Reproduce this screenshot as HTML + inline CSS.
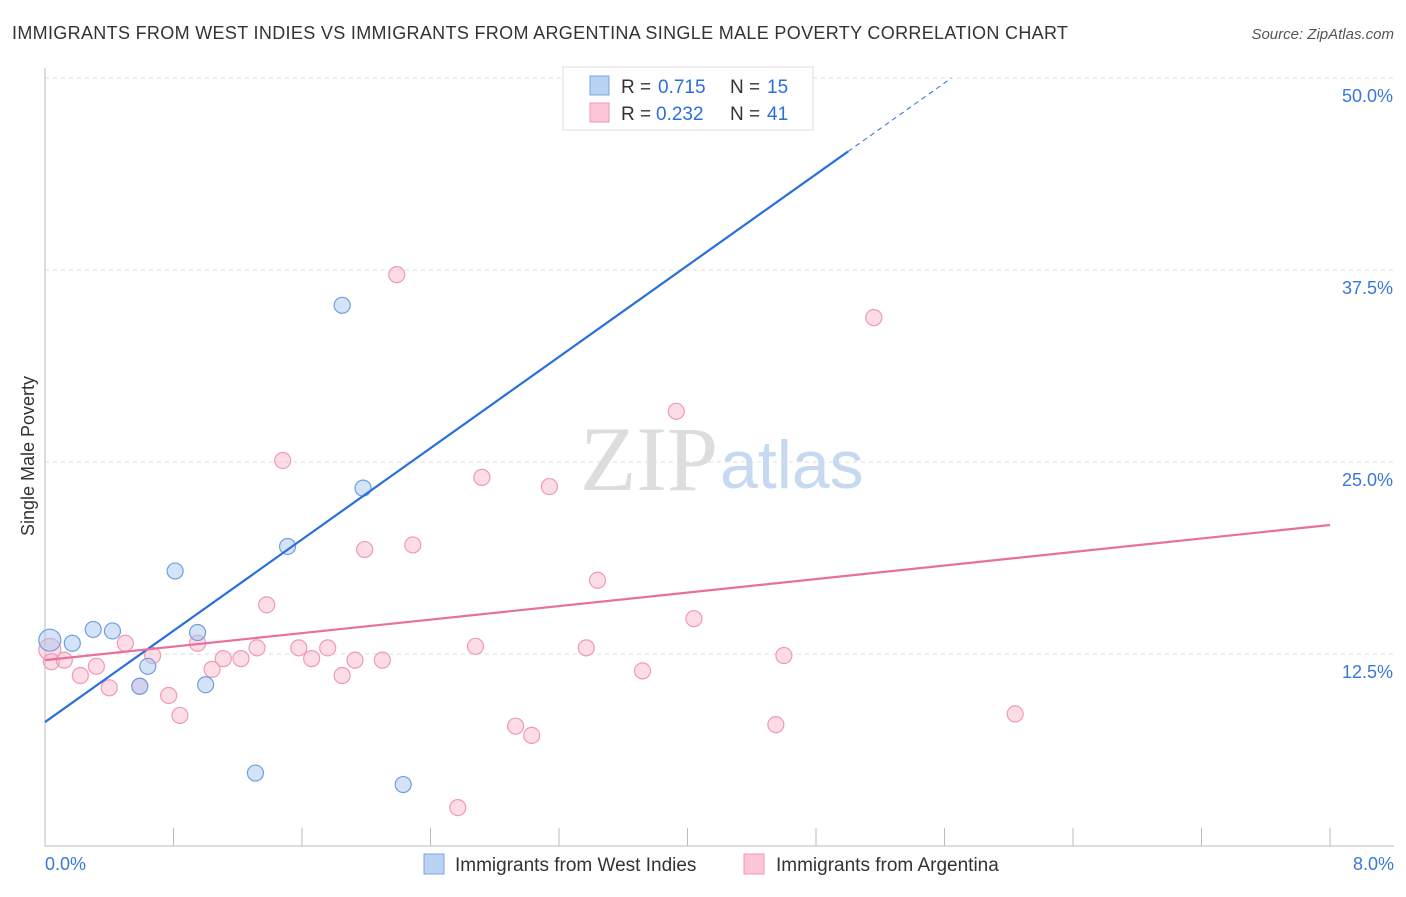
<!DOCTYPE html>
<html><head><meta charset="utf-8"><style>
body{margin:0;background:#fff;font-family:"Liberation Sans",sans-serif;}
</style></head><body>
<svg width="1406" height="892" xmlns="http://www.w3.org/2000/svg" style="font-family:'Liberation Sans',sans-serif">
<text x="12" y="39" font-size="18" fill="#333" textLength="1056" lengthAdjust="spacing">IMMIGRANTS FROM WEST INDIES VS IMMIGRANTS FROM ARGENTINA SINGLE MALE POVERTY CORRELATION CHART</text>
<text x="1394" y="39" font-size="15" fill="#555" text-anchor="end" font-style="italic">Source: ZipAtlas.com</text>
<g id="grid"></g>
<g id="ticks"></g>
<text x="718" y="490" font-size="92" fill="#ddd" text-anchor="end" font-family="Liberation Serif">ZIP</text>
<text x="720" y="488" font-size="68" fill="#c6d9f0">atlas</text>
<g id="pts"></g>
<g id="lines"></g>
<text transform="translate(34,456) rotate(-90)" font-size="18" fill="#333" text-anchor="middle">Single Male Poverty</text>
<g>
<rect x="563" y="67" width="250" height="63" fill="#fff" stroke="#ddd"/>
<rect x="590" y="76" width="19" height="19" fill="#b8d4f5" stroke="#7aa6e0"/>
<rect x="590" y="103" width="19" height="19" fill="#fcc6d6" stroke="#ee98b4"/>
<text x="621" y="93" font-size="19" fill="#333">R = </text><text x="658" y="93" font-size="19" fill="#2a6fdb">0.715</text>
<text x="730" y="93" font-size="19" fill="#333">N = </text><text x="767" y="93" font-size="19" fill="#2a6fdb">15</text>
<text x="621" y="120" font-size="19" fill="#333">R = </text><text x="656" y="120" font-size="19" fill="#2a6fdb">0.232</text>
<text x="730" y="120" font-size="19" fill="#333">N = </text><text x="767" y="120" font-size="19" fill="#2a6fdb">41</text>
</g>
<g>
<rect x="424" y="854" width="20" height="20" fill="#b8d4f5" stroke="#7aa6e0"/>
<text x="455" y="871" font-size="19" fill="#333">Immigrants from West Indies</text>
<rect x="744" y="854" width="20" height="20" fill="#fcc6d6" stroke="#ee98b4"/>
<text x="776" y="871" font-size="19" fill="#333">Immigrants from Argentina</text>
</g>
</svg>
<script>
const blueX=[0.03,0.17,0.30,0.42,0.59,0.64,0.81,0.95,1.00,1.31,1.51,1.85,1.98,2.23,4.53];
const blueY=[13.4,13.2,14.1,14.0,10.4,11.7,17.9,13.9,10.5,4.75,19.5,35.2,23.3,4.0,49.9];
const pinkX=[0.03,0.04,0.12,0.22,0.32,0.40,0.50,0.59,0.67,0.77,0.84,0.95,1.04,1.11,1.22,1.32,1.38,1.48,1.58,1.66,1.76,1.85,1.93,1.99,2.10,2.19,2.29,2.57,2.68,2.72,2.93,3.03,3.14,3.37,3.44,3.72,3.93,4.04,4.55,4.60,5.16,6.04];
const pinkY=[12.8,12.0,12.1,11.1,11.7,10.3,13.2,10.4,12.4,9.8,8.5,13.2,11.5,12.2,12.2,12.9,15.7,25.1,12.9,12.2,12.9,11.1,12.1,19.3,12.1,37.2,19.6,2.5,13.0,24.0,7.8,7.2,23.4,12.9,17.3,11.4,28.3,14.8,7.9,12.4,34.4,8.6];
const blueTrend=[8.07,7.43];
const pinkTrend=[12.1,1.1];
const yTicks=[12.5,25.0,37.5,50.0];
const xTicks=[0,0.8,1.6,2.4,3.2,4.0,4.8,5.6,6.4,7.2,8.0];
const NS="http://www.w3.org/2000/svg";
const sx=v=>45+v/8*1285, sy=v=>846-v/12.5*192;
function mk(p,t,a){const e=document.createElementNS(NS,t);for(const k in a)e.setAttribute(k,a[k]);document.getElementById(p).appendChild(e);return e;}
yTicks.forEach(t=>{
 const l=mk('grid','line',{x1:45,x2:1394,y1:sy(t),y2:sy(t),stroke:'#ddd','stroke-dasharray':'4,4'});
 
 
 const tx=mk('grid','text',{x:1393,y:sy(t)+24,'font-size':18,fill:'#3a78d8','text-anchor':'end'});
 tx.textContent=t.toFixed(1)+'%';
 
 
});
mk('ticks','line',{x1:45,x2:45,y1:68,y2:846,stroke:'#bbb'});
mk('ticks','line',{x1:45,x2:1394,y1:846,y2:846,stroke:'#bbb'});
xTicks.forEach(t=>{const l=mk('ticks','line',{x1:sx(t),x2:sx(t),y1:828,y2:846,stroke:'#bbb'});
 
 });
[[0,'0.0%',45,'start'],[8,'8.0%',1394,'end']].forEach(a=>{const tx=mk('ticks','text',{x:a[2],y:870,'font-size':18,fill:'#3a78d8','text-anchor':a[3]});tx.textContent=a[1];
 
 });
pinkX.forEach((x,i)=>{const c=mk('pts','circle',{cx:sx(x),cy:sy(pinkY[i]),r:i==0?11:8,fill:'rgba(248,180,200,0.45)',stroke:'#ef9ab5','stroke-width':1.2});
 
 });
blueX.forEach((x,i)=>{const c=mk('pts','circle',{cx:sx(x),cy:sy(blueY[i]),r:i==0?11:8,fill:'rgba(170,200,240,0.5)',stroke:'#6f9fe0','stroke-width':1.2});
 
 });
const bx2=5.0, bx3=(50-blueTrend[0])/blueTrend[1];
let l=mk('lines','line',{x1:sx(0),y1:sy(blueTrend[0]),x2:sx(bx2),y2:sy(blueTrend[0]+blueTrend[1]*bx2),stroke:'#2a6fdb','stroke-width':2.2});


l=mk('lines','line',{x1:sx(bx2),y1:sy(blueTrend[0]+blueTrend[1]*bx2),x2:sx(bx3),y2:sy(50),stroke:'#2a6fdb','stroke-width':1,'stroke-dasharray':'5,4'});


l=mk('lines','line',{x1:sx(0),y1:sy(pinkTrend[0]),x2:sx(8),y2:sy(pinkTrend[0]+pinkTrend[1]*8),stroke:'#e8709a','stroke-width':2.2});


</script>
</body></html>
